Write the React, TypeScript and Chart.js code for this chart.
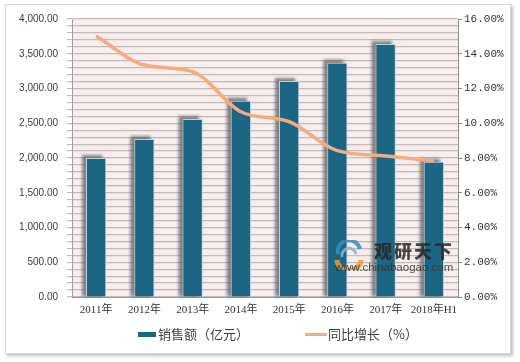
import React, { useEffect, useRef } from "react";
import { Chart, registerables } from "chart.js";

Chart.register(...registerables);

const categories = ["2011年", "2012年", "2013年", "2014年", "2015年", "2016年", "2017年", "2018年H1"];
const salesValues = [2000, 2273, 2561, 2824, 3108, 3371, 3640, 1947];
const growthValues = [15.02, 13.35, 12.97, 10.66, 10.09, 8.42, 8.12, 7.83];
const salesLabel = "销售额（亿元）";
const growthLabel = "同比增长（%）";

const BAR_COLOR = "#1b6585";
const LINE_COLOR = "#f6ab7f";

const plotBg = {
  id: "plotBg",
  beforeDraw(chart: any) {
    const { ctx, chartArea } = chart;
    ctx.save();
    ctx.fillStyle = "#f9eeee";
    ctx.fillRect(chartArea.left, chartArea.top, chartArea.right - chartArea.left, chartArea.bottom - chartArea.top);
    ctx.restore();
  },
};

const barShadow = {
  id: "barShadow",
  beforeDatasetDraw(chart: any, args: any) {
    if (args.index !== 1) return;
    const ctx = chart.ctx;
    const meta = chart.getDatasetMeta(1);
    ctx.save();
    ctx.filter = "blur(1.5px)";
    ctx.fillStyle = "rgba(95,95,95,0.75)";
    meta.data.forEach((el: any) => {
      const w = el.width;
      const left = el.x - w / 2 - 4;
      const top = el.y - 3;
      ctx.fillRect(left, top, w, el.base - top);
    });
    ctx.restore();
  },
};

export default function App() {
  const ref = useRef<HTMLCanvasElement | null>(null);

  useEffect(() => {
    if (!ref.current) return;
    const chart = new Chart(ref.current, {
      type: "bar",
      data: {
        labels: categories,
        datasets: [
          {
            type: "line",
            label: growthLabel,
            data: growthValues,
            yAxisID: "y1",
            borderColor: LINE_COLOR,
            backgroundColor: LINE_COLOR,
            borderWidth: 3.5,
            pointRadius: 0,
            tension: 0.4,
            cubicInterpolationMode: "monotone",
            order: 0,
          },
          {
            type: "bar",
            label: salesLabel,
            data: salesValues,
            yAxisID: "y",
            backgroundColor: BAR_COLOR,
            borderColor: "#b9d3de",
            borderWidth: 1,
            barPercentage: 0.42,
            categoryPercentage: 1,
            order: 1,
          },
        ],
      } as any,
      options: {
        responsive: false,
        animation: false,
        layout: { padding: { top: 19, left: 0, right: 0, bottom: 40 } },
        plugins: {
          legend: { display: false },
          tooltip: { enabled: false },
        },
        scales: {
          x: {
            offset: true,
            grid: { display: false, drawTicks: false },
            border: { display: true, color: "#9a9a9a", width: 1 },
            ticks: {
              padding: 7,
              color: "#333333",
              font: { family: "'Liberation Serif', 'Noto Sans CJK SC', serif", size: 11 },
              autoSkip: false,
              maxRotation: 0,
            },
            afterFit: (s: any) => {
              s.height = 25;
            },
          },
          y: {
            position: "left",
            min: 0,
            max: 4000,
            grid: { color: "#c2baba", lineWidth: 1.2, tickLength: 5, tickColor: "#c2baba" },
            border: { display: true, color: "#a0a0a0" },
            ticks: {
              stepSize: 100,
              autoSkip: false,
              padding: 9,
              color: "#3d3550",
              font: { family: "'Liberation Sans', Arial, sans-serif", size: 10 },
              callback: (v: any) =>
                Number(v) % 500 === 0
                  ? Number(v).toLocaleString("en-US", { minimumFractionDigits: 2, maximumFractionDigits: 2 })
                  : "",
            },
            afterFit: (s: any) => {
              s.width = 72;
            },
          },
          y1: {
            position: "right",
            min: 0,
            max: 16,
            grid: { drawOnChartArea: false, tickLength: 4, tickColor: "#8a8a8a" },
            border: { display: true, color: "#8a8a8a" },
            ticks: {
              stepSize: 2,
              padding: 2,
              color: "#333333",
              font: { family: "'Liberation Mono', monospace", size: 11 },
              callback: (v: any) => Number(v).toFixed(2) + "%",
            },
            afterFit: (s: any) => {
              s.width = 62;
            },
          },
        },
      } as any,
      plugins: [plotBg, barShadow],
    });
    return () => chart.destroy();
  }, []);

  const textFont = "'Noto Sans CJK SC', sans-serif";

  return (
    <div style={{ position: "fixed", left: 0, top: 0, width: 520, height: 362, background: "#ffffff", overflow: "hidden" }}>
      <div
        style={{
          position: "absolute",
          left: 5,
          top: 4,
          width: 504,
          height: 348,
          border: "1px solid #d6d6d6",
          boxShadow: "2px 2px 3px rgba(0,0,0,0.25)",
          background: "#ffffff",
        }}
      />
      <canvas ref={ref} width={520} height={362} style={{ position: "absolute", left: 0, top: 0 }} />
      <div style={{ position: "absolute", left: 138, top: 332, width: 18, height: 5, background: BAR_COLOR }} />
      <div
        style={{
          position: "absolute",
          left: 158,
          top: 325,
          fontFamily: textFont,
          fontSize: 13,
          lineHeight: "18px",
          color: "#404040",
          whiteSpace: "nowrap",
        }}
      >
        {salesLabel}
      </div>
      <div style={{ position: "absolute", left: 305, top: 333, width: 22, height: 3, background: LINE_COLOR, borderRadius: 1 }} />
      <div
        style={{
          position: "absolute",
          left: 328,
          top: 325,
          fontFamily: textFont,
          fontSize: 13,
          lineHeight: "18px",
          color: "#404040",
          whiteSpace: "nowrap",
        }}
      >
        {growthLabel}
      </div>
      <svg style={{ position: "absolute", left: 334, top: 240, opacity: 0.85 }} width={32} height={30}>
        <path d="M4 14 A11 11 0 0 1 26 9" stroke="#3a8bbd" strokeWidth={4} fill="none" />
        <path d="M8 17 A7 7 0 0 1 22 14" stroke="#7fb7d8" strokeWidth={3} fill="none" />
        <path d="M3 20 A12 10 0 0 0 27 20" stroke="#f29b2b" strokeWidth={5} fill="none" />
      </svg>
      <div
        style={{
          position: "absolute",
          left: 374,
          top: 239,
          fontFamily: textFont,
          fontWeight: 900,
          fontSize: 18,
          lineHeight: "22px",
          letterSpacing: 2,
          color: "rgba(40,40,40,0.85)",
          whiteSpace: "nowrap",
        }}
      >
        观研天下
      </div>
      <div
        style={{
          position: "absolute",
          left: 335,
          top: 260,
          fontFamily: "'Liberation Sans', Arial, sans-serif",
          fontSize: 11.5,
          lineHeight: "14px",
          color: "rgba(50,50,50,0.85)",
          whiteSpace: "nowrap",
        }}
      >
        www.chinabaogao.com
      </div>
    </div>
  );
}
